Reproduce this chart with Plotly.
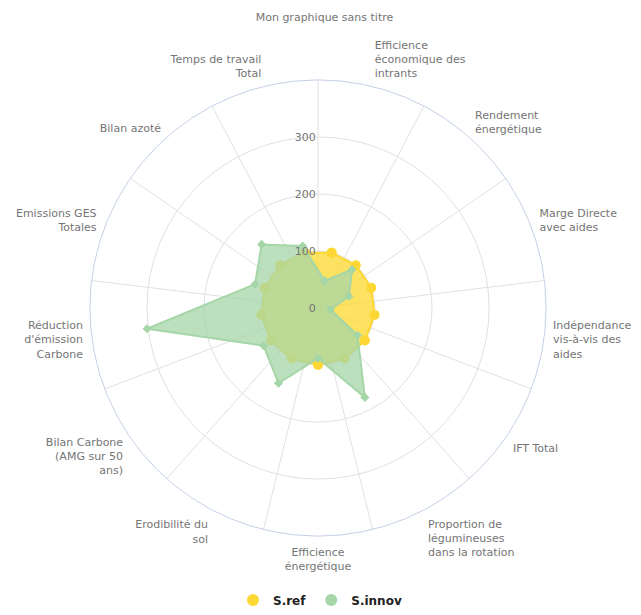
import plotly.graph_objects as go

categories = [
    "Efficience<br>économique des<br>intrants",
    "Rendement<br>énergétique",
    "Marge Directe<br>avec aides",
    "Indépendance<br>vis-à-vis des<br>aides",
    "IFT Total",
    "Proportion de<br>légumineuses<br>dans la rotation",
    "Efficience<br>énergétique",
    "Erodibilité du<br>sol",
    "Bilan Carbone<br>(AMG sur 50<br>ans)",
    "Réduction<br>d'émission<br>Carbone",
    "Emissions GES<br>Totales",
    "Bilan azoté",
    "Temps de travail<br>Total",
]
s_ref = [100, 100, 100, 100, 100, 100, 100, 100, 100, 100, 100, 100, 100]
s_innov = [49, 90, 58, 22, 84, 177, 88, 149, 116, 302, 118, 149, 112]
radial_ticks = [0, 100, 200, 300]
radial_max = 400

n = len(categories)
step = 360.0 / n
cat_theta = [step / 2 + i * step for i in range(n)]
spoke_theta = [i * step for i in range(n)]

font = "DejaVu Sans"
grey = "#e0e0e0"
label_col = "#757575"

fig = go.Figure()

# spokes (angular grid between categories)
sp_t, sp_r = [], []
for a in spoke_theta:
    sp_t += [a, a, None]
    sp_r += [0, radial_max, None]
fig.add_trace(go.Scatterpolar(theta=sp_t, r=sp_r, mode="lines",
                              line=dict(color=grey, width=1),
                              hoverinfo="skip", showlegend=False))

def closed(v):
    return list(v) + [v[0]]

fig.add_trace(go.Scatterpolar(
    theta=closed(cat_theta), r=closed(s_ref), mode="lines+markers",
    fill="toself", fillcolor="rgba(253,216,53,0.78)",
    line=dict(color="rgba(253,216,53,1)", width=2),
    marker=dict(size=10, color="#fdd835", symbol="circle"),
    name="S.ref", showlegend=False))

fig.add_trace(go.Scatterpolar(
    theta=closed(cat_theta), r=closed(s_innov), mode="lines+markers",
    fill="toself", fillcolor="rgba(165,214,167,0.75)",
    line=dict(color="rgba(165,214,167,1)", width=2),
    marker=dict(size=7, color="#a5d6a7", symbol="diamond"),
    name="S.innov", showlegend=False))

# legend entries
fig.add_trace(go.Scatterpolar(theta=[None], r=[None], mode="markers",
                              marker=dict(size=12, color="#fdd835"), name="S.ref"))
fig.add_trace(go.Scatterpolar(theta=[None], r=[None], mode="markers",
                              marker=dict(size=12, color="#a5d6a7"), name="S.innov"))

# page body has an 8px margin: figure coords = screen coords - 8
W, H = 633, 607
off = 8
cx, cy, R = 318 - off, 310.5 - off, 230
fig.update_layout(
    width=W, height=H,
    margin=dict(l=0, r=0, t=0, b=0),
    paper_bgcolor="white",
    font=dict(family=font, size=11, color=label_col),
    title=dict(text="Mon graphique sans titre", x=0.5, xanchor="center",
               y=1 - (17 - off) / H, yanchor="middle",
               font=dict(family=font, size=11, color=label_col)),
    showlegend=True,
    legend=dict(orientation="h", x=(320 - off) / W, xanchor="center",
                y=1 - (605 - off) / H, yanchor="middle",
                font=dict(family=font, size=12, color="#222222", weight="bold"),
                itemsizing="constant"),
    polar=dict(
        domain=dict(x=[(cx - R) / W, (cx + R) / W],
                    y=[(H - cy - R) / H, (H - cy + R) / H]),
        bgcolor="white",
        angularaxis=dict(
            type="linear", thetaunit="degrees", rotation=90, direction="clockwise",
            tickmode="array", tickvals=cat_theta, ticktext=categories,
            showgrid=False, showline=True, linecolor="#c5d0e8", linewidth=1,
            ticks="outside", ticklen=6, tickcolor="rgba(0,0,0,0)",
            tickfont=dict(family=font, size=11, color=label_col),
        ),
        radialaxis=dict(
            range=[0, radial_max], angle=90, tickangle=90, side="counterclockwise",
            tickmode="array", tickvals=radial_ticks,
            showline=False, showgrid=True, gridcolor=grey, gridwidth=1,
            ticks="", tickfont=dict(family=font, size=11, color=label_col),
        ),
    ),
)

fig.write_html("out.html")
